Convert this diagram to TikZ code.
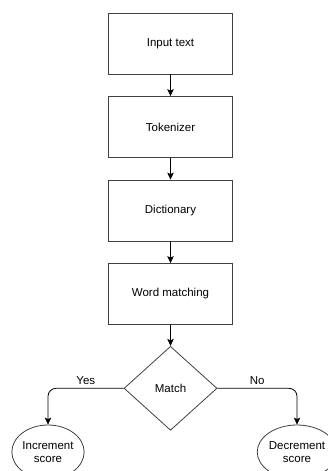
\documentclass[tikz,border=0pt]{standalone}
\usepackage{fontspec}
\setmainfont{Liberation Sans}
\usetikzlibrary{positioning,shapes.geometric,arrows.meta}

\begin{document}
\begin{tikzpicture}[->,>={Stealth[length=7pt,width=6.5pt,inset=1.5pt]},line width=0.8pt,node distance=21.7pt,
    font=\fontsize{11.5}{13}\selectfont,
    step box/.style={rectangle,draw=black!75,minimum width=124pt,minimum height=61pt},
    decision/.style={diamond,draw=black!75,minimum width=93pt,minimum height=84pt,inner sep=0pt},
    end node/.style={ellipse,draw=black!75,minimum width=72pt,minimum height=54pt,inner sep=0pt,align=center}]

    \useasboundingbox (0,0) rectangle (327pt,-471pt);

    \node[step box] (1) at (170.5pt,-43.5pt) {Input text};
    \node[step box] (2) [below = of 1] {Tokenizer};
    \node[step box] (3) [below = of 2] {Dictionary};
    \node[step box] (4) [below = of 3] {Word matching};
    \node[decision] (5) [below = 21pt of 4] {Match};
    \node[end node] (6) at (48pt,-452pt) {Increment\\score};
    \node[end node] (7) at (297pt,-452pt) {Decrement\\score};

    \draw (1) to (2);
    \draw (2) to (3);
    \draw (3) to (4);
    \draw (4) to (5);
    \draw[rounded corners=8pt] (5.west) -| node[above,pos=0.25] {Yes} (6.north);
    \draw[rounded corners=8pt] (5.east) -| node[above,pos=0.25] {No} (7.north);

\end{tikzpicture}
\end{document}
